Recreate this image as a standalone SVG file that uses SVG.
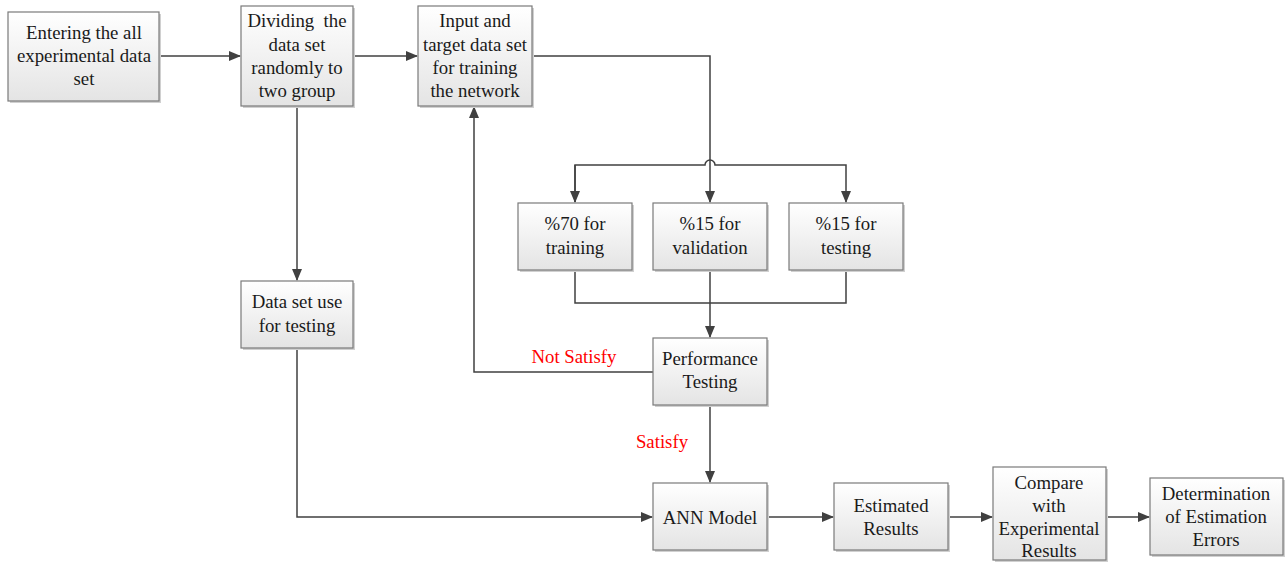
<svg xmlns="http://www.w3.org/2000/svg" width="1287" height="564" viewBox="0 0 1287 564" font-family="'Liberation Serif', 'Times New Roman', Times, serif">
<defs>
<linearGradient id="g" x1="0" y1="0" x2="0" y2="1"><stop offset="0" stop-color="#ffffff"/><stop offset="1" stop-color="#e4e4e4"/></linearGradient>
<marker id="ah" markerWidth="12" markerHeight="10" refX="11" refY="5" orient="auto" markerUnits="userSpaceOnUse"><path d="M0,0 L12,5 L0,10 z" fill="#404040"/></marker>
<style>
.box{fill:url(#g);stroke:#7a7a7a;stroke-width:1.2}
.sh{fill:#d0d0d0}
text{font-family:'Liberation Serif','Times New Roman',Times,serif;font-size:18.8px}
.t{fill:#1a1a1a;text-anchor:middle}
.r{fill:#ff0000;text-anchor:middle}
.c{fill:none;stroke:#404040;stroke-width:1.5}
</style>
</defs>
<g id="connectors">
<path class="c" d="M159,56 H240" marker-end="url(#ah)"/>
<path class="c" d="M353,56 H417" marker-end="url(#ah)"/>
<path class="c" d="M532,56 H710 V202" marker-end="url(#ah)"/>
<path class="c" d="M575,202 V165 H705 A5,5 0 0 1 715,165 H846 V202" marker-end="url(#ah)"/>
<path class="c" d="M575,165 V202" marker-end="url(#ah)"/>
<path class="c" d="M575,270 V303 H846 V270"/>
<path class="c" d="M710,270 V337" marker-end="url(#ah)"/>
<path class="c" d="M653,372 H474 V107" marker-end="url(#ah)"/>
<path class="c" d="M710,405 V482" marker-end="url(#ah)"/>
<path class="c" d="M297,106 V280" marker-end="url(#ah)"/>
<path class="c" d="M297,348 V517 H652" marker-end="url(#ah)"/>
<path class="c" d="M767,517 H833" marker-end="url(#ah)"/>
<path class="c" d="M948,517 H992" marker-end="url(#ah)"/>
<path class="c" d="M1106,517 H1149" marker-end="url(#ah)"/>
<text class="r" x="574" y="363">Not Satisfy</text>
<text class="r" x="662" y="448">Satisfy</text>
</g>
<g id="n1"><rect class="sh" x="10" y="14" width="151" height="89"/><rect class="box" x="8" y="12" width="151" height="89"/>
<text class="t" x="84" y="39">Entering the all</text><text class="t" x="84" y="62">experimental data</text><text class="t" x="84" y="85">set</text></g>
<g id="n2"><rect class="sh" x="243" y="8" width="112" height="100"/><rect class="box" x="241" y="6" width="112" height="100"/>
<text class="t" x="297" y="27" xml:space="preserve">Dividing  the</text><text class="t" x="297" y="51">data set</text><text class="t" x="297" y="74">randomly to</text><text class="t" x="297" y="97">two group</text></g>
<g id="n3"><rect class="sh" x="420" y="8" width="114" height="100"/><rect class="box" x="418" y="6" width="114" height="100"/>
<text class="t" x="475" y="27">Input and</text><text class="t" x="475" y="51">target data set</text><text class="t" x="475" y="74">for training</text><text class="t" x="475" y="97">the network</text></g>
<g id="n4"><rect class="sh" x="520" y="205" width="114" height="67"/><rect class="box" x="518" y="203" width="114" height="67"/>
<text class="t" x="575" y="230">%70 for</text><text class="t" x="575" y="254">training</text></g>
<g id="n5"><rect class="sh" x="655" y="205" width="114" height="67"/><rect class="box" x="653" y="203" width="114" height="67"/>
<text class="t" x="710" y="230">%15 for</text><text class="t" x="710" y="254">validation</text></g>
<g id="n6"><rect class="sh" x="791" y="205" width="114" height="67"/><rect class="box" x="789" y="203" width="114" height="67"/>
<text class="t" x="846" y="230">%15 for</text><text class="t" x="846" y="254">testing</text></g>
<g id="n7"><rect class="sh" x="655" y="340" width="114" height="67"/><rect class="box" x="653" y="338" width="114" height="67"/>
<text class="t" x="710" y="365">Performance</text><text class="t" x="710" y="388">Testing</text></g>
<g id="n8"><rect class="sh" x="243" y="283" width="112" height="67"/><rect class="box" x="241" y="281" width="112" height="67"/>
<text class="t" x="297" y="308">Data set use</text><text class="t" x="297" y="332">for testing</text></g>
<g id="n9"><rect class="sh" x="655" y="485" width="114" height="67"/><rect class="box" x="653" y="483" width="114" height="67"/>
<text class="t" x="710" y="524">ANN Model</text></g>
<g id="n10"><rect class="sh" x="836" y="485" width="114" height="67"/><rect class="box" x="834" y="483" width="114" height="67"/>
<text class="t" x="891" y="512">Estimated</text><text class="t" x="891" y="535">Results</text></g>
<g id="n11"><rect class="sh" x="995" y="469" width="113" height="93"/><rect class="box" x="993" y="467" width="113" height="93"/>
<text class="t" x="1049" y="489">Compare</text><text class="t" x="1049" y="512">with</text><text class="t" x="1049" y="535">Experimental</text><text class="t" x="1049" y="557">Results</text></g>
<g id="n12"><rect class="sh" x="1152" y="480" width="133" height="77"/><rect class="box" x="1150" y="478" width="133" height="77"/>
<text class="t" x="1216" y="500">Determination</text><text class="t" x="1216" y="523">of Estimation</text><text class="t" x="1216" y="546">Errors</text></g>
</svg>
